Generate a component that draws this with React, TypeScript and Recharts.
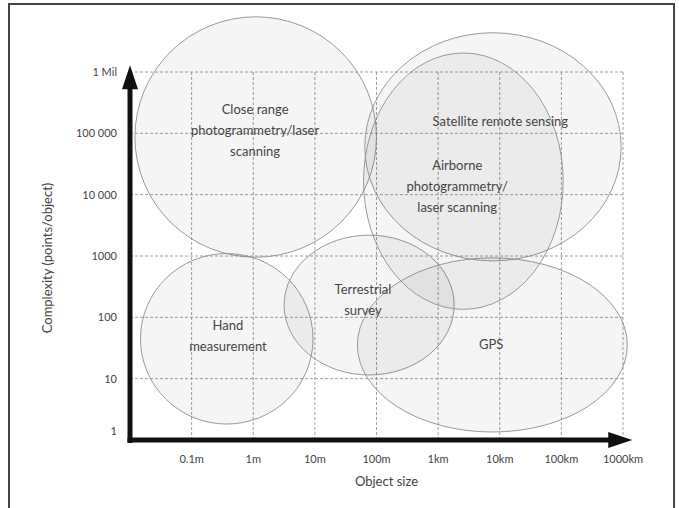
import React from 'react';
import {
  ComposedChart,
  XAxis,
  YAxis,
  CartesianGrid,
  ReferenceArea,
  ReferenceLine,
  Scatter,
} from 'recharts';

// log10 of object size in metres
const sizeTicks = [-1, 0, 1, 2, 3, 4, 5, 6];
const sizeLabels = ['0.1m', '1m', '10m', '100m', '1km', '10km', '100km', '1000km'];

// log10 of points per object
const complexityTicks = [0, 1, 2, 3, 4, 5, 6];
const complexityLabels = ['1', '10', '100', '1000', '10 000', '100 000', '1 Mil'];

// technique regions in log10 units
const regionNames = ['Close range', 'Hand', 'Terrestrial', 'GPS', 'Satellite', 'Airborne'];
const regionCenterX = [0.04, -0.43, 1.88, 3.88, 3.89, 3.41];
const regionCenterY = [4.94, 1.65, 2.2, 1.55, 4.78, 4.22];
const regionSpreadX = [1.96, 1.4, 1.38, 2.19, 2.08, 1.62];
const regionSpreadY = [1.96, 1.39, 1.14, 1.42, 1.86, 2.09];

const labelLines = [
  ['Close range', 'photogrammetry/laser', 'scanning'],
  ['Hand', 'measurement'],
  ['Terrestrial', 'survey'],
  ['GPS'],
  ['Satellite remote sensing'],
  ['Airborne', 'photogrammetry/', 'laser scanning'],
];
const labelX = [0.03, -0.41, 1.78, 3.86, 4.01, 3.31];
const labelY = [5.05, 1.7, 2.28, 1.55, 5.19, 4.13];

const labelData = regionNames.map((name, i) => ({
  name,
  x: labelX[i],
  y: labelY[i],
  lines: labelLines[i],
}));

const FONT = 'Lato, "Open Sans", sans-serif';
const TEXT = '#444';

function EllipseShape(props: any) {
  const { x, y, width, height } = props;
  return (
    <ellipse
      cx={x + width / 2}
      cy={y + height / 2}
      rx={Math.abs(width) / 2}
      ry={Math.abs(height) / 2}
      fill="rgba(0,0,0,0.04)"
      stroke="#8f8f8f"
      strokeWidth={0.9}
    />
  );
}

function ArrowShape(props: any) {
  const { x1, y1, x2, y2 } = props;
  const len = Math.hypot(x2 - x1, y2 - y1);
  const ux = (x2 - x1) / len;
  const uy = (y2 - y1) / len;
  const head = 24;
  const half = 8;
  const bx = x2 - ux * head;
  const by = y2 - uy * head;
  return (
    <g>
      <line x1={x1} y1={y1} x2={bx + ux * 2} y2={by + uy * 2} stroke="#111" strokeWidth={5} />
      <polygon
        points={`${x2},${y2} ${bx - uy * half},${by + ux * half} ${bx + uy * half},${by - ux * half}`}
        fill="#111"
      />
    </g>
  );
}

function SizeTick(props: any) {
  const { x, y, payload } = props;
  const idx = sizeTicks.indexOf(payload.value);
  return (
    <text x={x} y={y} dy="0.71em" textAnchor="middle" fontSize={11} fill={TEXT} fontFamily={FONT}>
      {sizeLabels[idx]}
    </text>
  );
}

function ComplexityTick(props: any) {
  const { x, y, payload } = props;
  const idx = complexityTicks.indexOf(payload.value);
  return (
    <text
      x={x}
      y={payload.value === 0 ? y - 9 : y}
      dy="0.355em"
      textAnchor="end"
      fontSize={11}
      fill={TEXT}
      fontFamily={FONT}
    >
      {complexityLabels[idx]}
    </text>
  );
}

function RegionLabel(props: any) {
  const { cx, cy, payload } = props;
  const lines: string[] = payload.lines;
  const lh = 21;
  const top = cy - ((lines.length - 1) * lh) / 2;
  return (
    <text textAnchor="middle" fontSize={13} fill={TEXT} fontFamily={FONT}>
      {lines.map((ln, i) => (
        <tspan key={i} x={cx} y={top + i * lh} dy="0.35em">
          {ln}
        </tspan>
      ))}
    </text>
  );
}

export default function App() {
  return (
    <div style={{ position: 'absolute', left: 0, top: 0, width: 679, height: 508, background: '#fff' }}>
      <div
        style={{
          position: 'absolute',
          left: 8,
          top: 3,
          width: 663,
          height: 520,
          border: '2px solid #444',
        }}
      />
      <div style={{ position: 'absolute', left: 0, top: 0 }}>
        <ComposedChart
          width={679}
          height={508}
          margin={{ top: 72, right: 56, left: 35, bottom: 18 }}
        >
          <CartesianGrid stroke="#a0a0a0" strokeDasharray="3 2" strokeWidth={1} />
          <XAxis
            type="number"
            dataKey="x"
            domain={[-2, 6]}
            ticks={sizeTicks}
            interval={0}
            axisLine={false}
            tickLine={false}
            tickSize={0}
            tickMargin={15}
            height={50}
            tick={<SizeTick />}
            label={{
              content: ({ viewBox }: any) => (
                <text
                  x={viewBox.x + viewBox.width / 2 + 10}
                  y={viewBox.y + 46}
                  textAnchor="middle"
                  fontSize={13}
                  fill={TEXT}
                  fontFamily={FONT}
                >
                  Object size
                </text>
              ),
            }}
          />
          <YAxis
            type="number"
            dataKey="y"
            domain={[0, 6]}
            ticks={complexityTicks}
            interval={0}
            axisLine={false}
            tickLine={false}
            tickSize={0}
            tickMargin={13}
            width={95}
            tick={<ComplexityTick />}
            label={{
              content: ({ viewBox }: any) => {
                const lx = viewBox.x + 12;
                const ly = viewBox.y + viewBox.height / 2 + 2;
                return (
                  <text
                    x={lx}
                    y={ly}
                    transform={`rotate(-90, ${lx}, ${ly})`}
                    textAnchor="middle"
                    dominantBaseline="central"
                    fontSize={13}
                    fill={TEXT}
                    fontFamily={FONT}
                  >
                    Complexity (points/object)
                  </text>
                );
              },
            }}
          />
          {regionNames.map((name, i) => (
            <ReferenceArea
              key={name}
              x1={regionCenterX[i] - regionSpreadX[i]}
              x2={regionCenterX[i] + regionSpreadX[i]}
              y1={regionCenterY[i] - regionSpreadY[i]}
              y2={regionCenterY[i] + regionSpreadY[i]}
              ifOverflow="visible"
              shape={<EllipseShape />}
            />
          ))}
          <ReferenceLine
            segment={[{ x: -2.04, y: 0 }, { x: 6.15, y: 0 }]}
            ifOverflow="visible"
            shape={<ArrowShape />}
          />
          <ReferenceLine
            segment={[{ x: -2, y: -0.05 }, { x: -2, y: 6.11 }]}
            ifOverflow="visible"
            shape={<ArrowShape />}
          />
          <Scatter data={labelData} dataKey="y" isAnimationActive={false} shape={<RegionLabel />} />
        </ComposedChart>
      </div>
    </div>
  );
}
